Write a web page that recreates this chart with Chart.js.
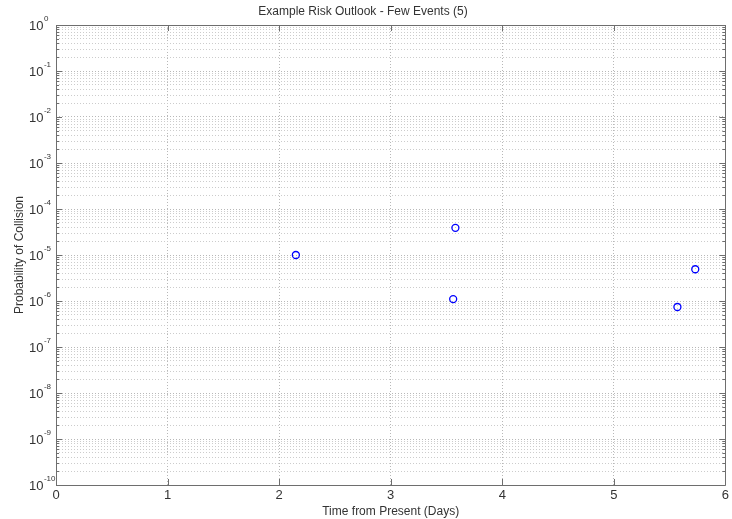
<!DOCTYPE html>
<html>
<head>
<meta charset="utf-8">
<script src="https://cdn.jsdelivr.net/npm/chart.js@4.4.1/dist/chart.umd.min.js"></script>
<style>
  body { margin: 0; background: #fff; }
  #wrap { width: 732px; height: 519px; }
</style>
</head>
<body>
<div id="wrap"><canvas id="riskChart" width="732" height="519"></canvas></div>
<script>
// Dati (5 eventi)
var timeDays = [2.15, 3.58, 3.56, 5.57, 5.73];
var probCollision = [1.0e-5, 3.9e-5, 1.1e-6, 7.4e-7, 4.9e-6];
// Etichette dei tick
var xTicks = [0, 1, 2, 3, 4, 5, 6];
var yExponents = [-10, -9, -8, -7, -6, -5, -4, -3, -2, -1, 0];

var points = timeDays.map(function (t, i) {
    return { x: t, y: probCollision[i] };
});

function isDecade(v) {
    var l = Math.log10(v);
    return Math.abs(l - Math.round(l)) < 1e-9;
}

// Disegna riquadro, tacche interne ed etichette 10^n
var axisExtras = {
    id: 'axisExtras',
    afterDraw: function (chart) {
        var c = chart.ctx, a = chart.chartArea;
        var xs = chart.scales.x, ys = chart.scales.y;
        c.save();
        c.strokeStyle = '#6e6e6e';
        c.lineWidth = 1;
        c.beginPath();
        c.rect(Math.round(a.left) + 0.5, Math.round(a.top) + 0.5,
               Math.round(a.right - a.left), Math.round(a.bottom - a.top));
        c.stroke();
        // tacche asse x
        c.beginPath();
        xTicks.forEach(function (v) {
            var px = Math.round(xs.getPixelForValue(v)) + 0.5;
            c.moveTo(px, a.bottom); c.lineTo(px, a.bottom - 6);
            c.moveTo(px, a.top); c.lineTo(px, a.top + 6);
        });
        // tacche asse y
        ys.ticks.forEach(function (t) {
            var py = Math.round(ys.getPixelForValue(t.value)) + 0.5;
            var len = isDecade(t.value) ? 6 : 3;
            c.moveTo(a.left, py); c.lineTo(a.left + len, py);
            c.moveTo(a.right, py); c.lineTo(a.right - len, py);
        });
        c.stroke();
        // etichette 10^n, allineate a sinistra come in MATLAB
        c.fillStyle = '#333';
        c.textBaseline = 'middle';
        c.textAlign = 'left';
        yExponents.forEach(function (n) {
            var py = ys.getPixelForValue(Math.pow(10, n)) + 1;
            var left = 29;
            c.font = '13px "Liberation Sans", Arial, sans-serif';
            c.fillText('10', left, py);
            var w = c.measureText('10').width;
            c.font = '8px "Liberation Sans", Arial, sans-serif';
            c.fillText(String(n), left + w + 0.5, py - 7);
        });
        c.restore();
    }
};

Chart.defaults.font.family = '"Liberation Sans", Arial, sans-serif';
Chart.defaults.font.size = 12;
Chart.defaults.color = '#333';

var ctx = document.getElementById('riskChart').getContext('2d');
var riskChart = new Chart(ctx, {
    type: 'scatter',
    data: {
        datasets: [{
            label: 'Eventi',
            data: points,
            pointStyle: 'circle',
            pointRadius: 3.5,
            pointHoverRadius: 3.5,
            borderWidth: 1.3,
            borderColor: '#0000ff',
            backgroundColor: 'rgba(0,0,0,0)'
        }]
    },
    options: {
        responsive: false,
        animation: false,
        layout: { padding: { left: 0, right: 6, top: 0, bottom: 0 } },
        plugins: {
            legend: { display: false },
            tooltip: { enabled: false },
            title: {
                display: true,
                text: 'Example Risk Outlook - Few Events (5)',
                font: { size: 12, weight: 'normal' },
                color: '#333',
                padding: { top: 4, bottom: 6.6 }
            }
        },
        scales: {
            x: {
                type: 'linear',
                min: 0,
                max: 6,
                afterBuildTicks: function (scale) {
                    scale.ticks = xTicks.map(function (v) { return { value: v }; });
                },
                afterFit: function (scale) { scale.height = 34; },
                ticks: { padding: 3, color: '#333', font: { size: 13 } },
                grid: {
                    drawTicks: false,
                    color: function (c) {
                        return (c.tick && (c.tick.value === 0 || c.tick.value === 6)) ? 'rgba(0,0,0,0)' : '#b8b8b8';
                    }
                },
                border: { display: false, dash: [1, 2] },
                title: {
                    display: true,
                    text: 'Time from Present (Days)',
                    font: { size: 12 },
                    color: '#333',
                    padding: { top: 0, bottom: 0 }
                }
            },
            y: {
                type: 'logarithmic',
                min: 1e-10,
                max: 1,
                afterBuildTicks: function (scale) {
                    var t = [];
                    for (var n = -10; n < 0; n++) {
                        for (var m = 1; m < 10; m++) {
                            t.push({ value: m * Math.pow(10, n) });
                        }
                    }
                    t.push({ value: 1 });
                    scale.ticks = t;
                },
                afterFit: function (scale) { scale.width = 56; },
                ticks: { display: false },
                grid: {
                    drawTicks: false,
                    color: function (c) {
                        if (!c.tick) return '#cccccc';
                        if (c.tick.value <= 1e-10 * 1.0001 || c.tick.value >= 0.9999) return 'rgba(0,0,0,0)';
                        return isDecade(c.tick.value) ? '#b8b8b8' : '#cccccc';
                    }
                },
                border: { display: false, dash: [1, 2] },
                title: {
                    display: true,
                    text: 'Probability of Collision',
                    font: { size: 12 },
                    color: '#333',
                    padding: { top: 12, bottom: 0 }
                }
            }
        }
    },
    plugins: [axisExtras]
});
</script>
</body>
</html>
